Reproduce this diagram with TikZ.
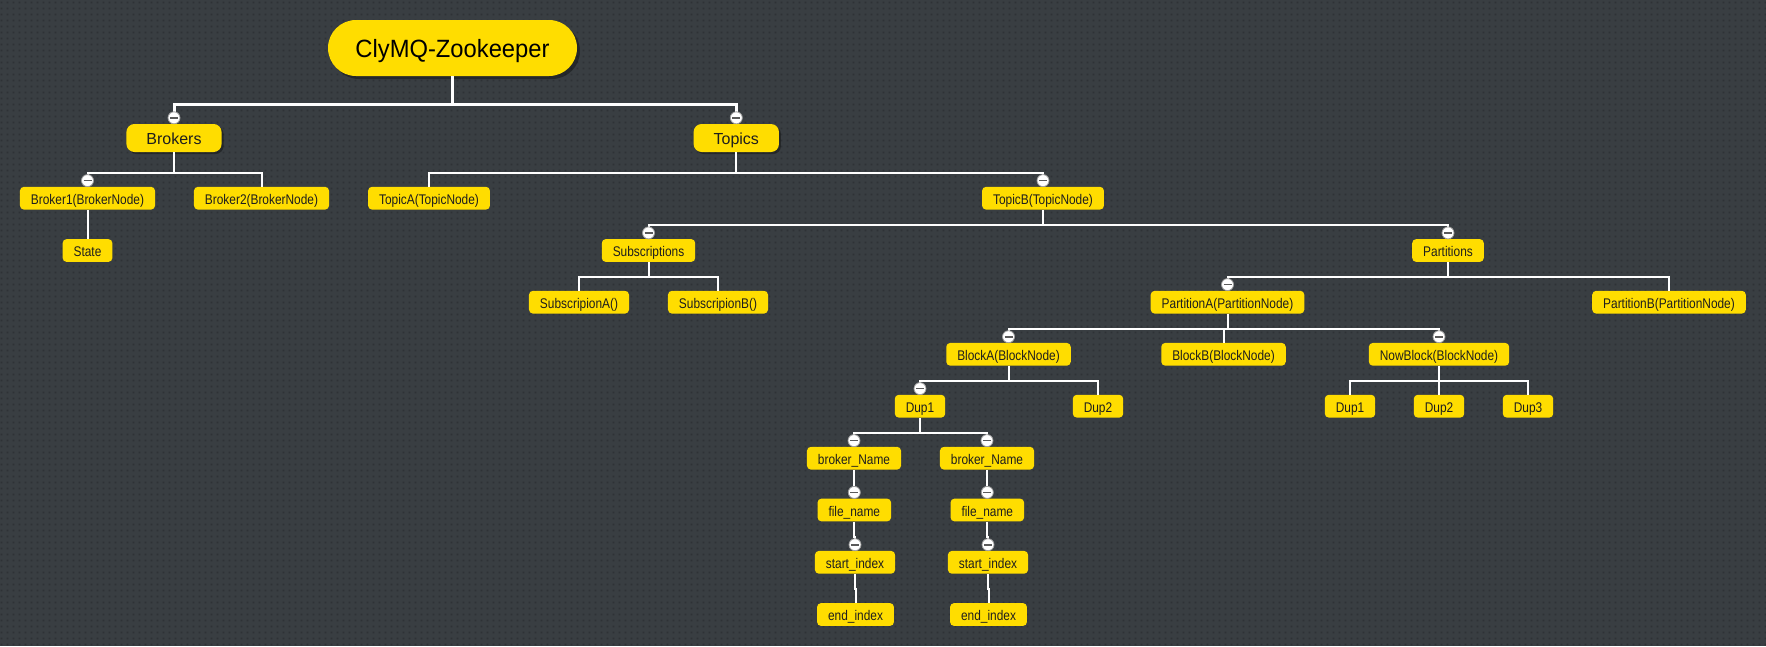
\documentclass[tikz,border=0pt]{standalone}
\usepackage{fontspec}
\setmainfont{Liberation Sans}
\newfontfamily\leaffont[FakeStretch=0.85]{Liberation Sans}
\newfontfamily\rootfont[FakeStretch=0.95]{Liberation Sans}
\usetikzlibrary{calc,patterns.meta,shadows}
\definecolor{bgc}{HTML}{393E42}
\definecolor{dotc}{HTML}{2E3236}
\definecolor{ylw}{HTML}{FFDD00}
\definecolor{txt}{HTML}{1E1E1E}
\definecolor{ringc}{HTML}{A0A0A0}
\definecolor{minc}{HTML}{5A5A5A}
\tikzdeclarepattern{
  name=bgdots,
  type=uncolored,
  bounding box={(0pt,0pt) and (6pt,6pt)},
  tile size={(6pt,6pt)},
  code={\pgfpathrectangle{\pgfpoint{2pt}{2pt}}{\pgfpoint{2pt}{2pt}}\pgfusepath{fill}}
}
\tikzset{
  leaf/.style={fill=ylw, text=txt, rounded corners=4pt, minimum height=22.8pt,
    inner xsep=11pt, inner ysep=0pt, text height=13pt, text depth=0.4pt,
    font=\leaffont\fontsize{14}{16}\selectfont},
  midbox/.style={fill=ylw, text=txt, rounded corners=8pt, minimum height=28pt,
    inner xsep=20pt, inner ysep=0pt, text height=12.2pt, text depth=0pt,
    font=\fontsize{16}{19}\selectfont,
    drop shadow={shadow xshift=2pt, shadow yshift=-2pt, fill=black, opacity=0.35}},
  rootbox/.style={fill=ylw, text=black, rounded corners=28pt, minimum height=56pt,
    minimum width=249pt, inner sep=0pt, text height=18.6pt, text depth=0pt,
    font=\rootfont\fontsize{25}{29}\selectfont,
    drop shadow={shadow xshift=3pt, shadow yshift=-3pt, fill=black, opacity=0.35}},
  conn/.style={draw=white, line width=2pt},
  connb/.style={draw=white, line width=3pt},
}
\newcommand\elbow[4][conn]{%
  \coordinate (barpt) at (0,#4);
  \draw[#1] (#2.south) -- (#2.south |- barpt) -| (#3.north);}
\newcommand\knob[1]{%
  \draw[ringc, fill=white, line width=0.8pt] ($(#1.north)+(0,-6)$) circle (6pt);
  \draw[minc, line width=1.6pt] ($(#1.north)+(-4,-6)$) -- ($(#1.north)+(4,-6)$);}
\begin{document}
\begin{tikzpicture}[x=1pt,y=-1pt]
\useasboundingbox (0,0) rectangle (1766,646);
\fill[bgc] (0,0) rectangle (1766,646);
\fill[pattern=bgdots, pattern color=dotc] (0,0) rectangle (1766,646);

% nodes
\node[rootbox] (root) at (452.5,48) {ClyMQ-Zookeeper};
\node[midbox] (brokers) at (174,138) {Brokers};
\node[midbox] (topics) at (736.3,138) {Topics};

\node[leaf] (b1) at (87.5,198.2) {Broker1(BrokerNode)};
\node[leaf] (b2) at (261.5,198.2) {Broker2(BrokerNode)};
\node[leaf] (ta) at (429,198.2) {TopicA(TopicNode)};
\node[leaf] (tb) at (1043,198.2) {TopicB(TopicNode)};

\node[leaf] (state) at (87.5,250.5) {State};
\node[leaf] (subs) at (648.5,250.5) {Subscriptions};
\node[leaf] (parts) at (1448,250.5) {Partitions};

\node[leaf] (sa) at (579,302.2) {SubscripionA()};
\node[leaf] (sb) at (718,302.2) {SubscripionB()};
\node[leaf] (pa) at (1227.5,302.2) {PartitionA(PartitionNode)};
\node[leaf] (pb) at (1669,302.2) {PartitionB(PartitionNode)};

\node[leaf] (bla) at (1008.5,354.3) {BlockA(BlockNode)};
\node[leaf] (blb) at (1223.5,354.3) {BlockB(BlockNode)};
\node[leaf] (nb) at (1439,354.3) {NowBlock(BlockNode)};

\node[leaf] (d1a) at (920,406.2) {Dup1};
\node[leaf] (d2a) at (1098,406.2) {Dup2};
\node[leaf] (d1b) at (1350,406.2) {Dup1};
\node[leaf] (d2b) at (1439,406.2) {Dup2};
\node[leaf] (d3b) at (1528,406.2) {Dup3};

\node[leaf] (bn1) at (854,458.2) {broker\_Name};
\node[leaf] (bn2) at (987,458.2) {broker\_Name};
\node[leaf] (fn1) at (854.3,510) {file\_name};
\node[leaf] (fn2) at (987.3,510) {file\_name};
\node[leaf] (si1) at (855,562.3) {start\_index};
\node[leaf] (si2) at (988,562.3) {start\_index};
\node[leaf] (ei1) at (855.5,614.5) {end\_index};
\node[leaf] (ei2) at (988.5,614.5) {end\_index};

% connectors
\elbow[connb]{root}{brokers}{104}
\elbow[connb]{root}{topics}{104}
\elbow{brokers}{b1}{173}
\elbow{brokers}{b2}{173}
\elbow{topics}{ta}{173}
\elbow{topics}{tb}{173}
\elbow{b1}{state}{224.5}
\elbow{tb}{subs}{224.5}
\elbow{tb}{parts}{224.5}
\elbow{subs}{sa}{276.7}
\elbow{subs}{sb}{276.7}
\elbow{parts}{pa}{276.7}
\elbow{parts}{pb}{276.7}
\elbow{pa}{bla}{328.7}
\elbow{pa}{blb}{328.7}
\elbow{pa}{nb}{328.7}
\elbow{bla}{d1a}{380.5}
\elbow{bla}{d2a}{380.5}
\elbow{nb}{d1b}{380.5}
\elbow{nb}{d2b}{380.5}
\elbow{nb}{d3b}{380.5}
\elbow{d1a}{bn1}{432.7}
\elbow{d1a}{bn2}{432.7}
\elbow{bn1}{fn1}{484.5}
\elbow{bn2}{fn2}{484.5}
\elbow{fn1}{si1}{536.5}
\elbow{fn2}{si2}{536.5}
\elbow{si1}{ei1}{588.5}
\elbow{si2}{ei2}{588.5}

% collapse knobs
\knob{brokers}
\knob{topics}
\knob{b1}
\knob{tb}
\knob{subs}
\knob{parts}
\knob{pa}
\knob{bla}
\knob{nb}
\knob{d1a}
\knob{bn1}
\knob{bn2}
\knob{fn1}
\knob{fn2}
\knob{si1}
\knob{si2}
\end{tikzpicture}
\end{document}
